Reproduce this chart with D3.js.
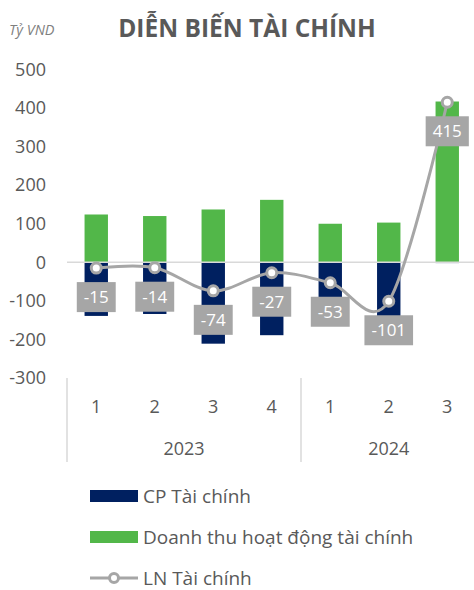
<!DOCTYPE html>
<html>
<head>
<meta charset="utf-8">
<script src="https://cdn.jsdelivr.net/npm/d3@7"></script>
<style>
    body { margin: 0; background: #fff; }
    svg { font-family: "Open Sans", "Noto Sans", sans-serif; }
</style>
</head>
<body>
<script>
// data
let quarters = ["1", "2", "3", "4", "1", "2", "3"];
let years = ["2023", "2024"];
let yearSpans = [4, 3];
let revenue = [124, 120, 137, 162, 100, 103, 417];
let cost = [-139, -134, -211, -189, -153, -204, -2];
let profit = [-15, -14, -74, -27, -53, -101, 415];
let yTicks = [500, 400, 300, 200, 100, 0, -100, -200, -300];
let seriesNames = ["CP Tài chính", "Doanh thu hoạt động tài chính", "LN Tài chính"];

let width = 474, height = 590;
let navy = "#002060", green = "#52b749", gray = "#a6a6a6", textCol = "#595959";

let svg = d3.select("body").append("svg")
    .attr("width", width)
    .attr("height", height);

// title
svg.append("text")
    .attr("x", 247).attr("y", 37)
    .attr("text-anchor", "middle")
    .attr("font-size", 24.5).attr("font-weight", "bold")
    .attr("fill", textCol)
    .text("DIỄN BIẾN TÀI CHÍNH");

svg.append("text")
    .attr("x", 9).attr("y", 35)
    .attr("font-size", 14.5).attr("font-style", "italic")
    .attr("fill", "#7f7f7f")
    .text("Tỷ VND");

let idx = d3.range(quarters.length);
let x = d3.scaleBand()
    .domain(idx)
    .range([67, 476.5])
    .paddingInner(0.6)
    .paddingOuter(0.3);

let y = d3.scaleLinear()
    .domain([-300, 500])
    .range([378, 69.5]);

// y tick labels
svg.append("g").selectAll("text")
    .data(yTicks)
    .enter().append("text")
    .attr("x", 46)
    .attr("y", d => y(d))
    .attr("dy", "0.35em")
    .attr("text-anchor", "end")
    .attr("font-size", 18)
    .attr("fill", textCol)
    .text(d => d);

// bars
let cx = i => x(i) + x.bandwidth() / 2;

svg.append("g").selectAll("rect")
    .data(revenue)
    .enter().append("rect")
    .attr("x", (d, i) => x(i))
    .attr("width", x.bandwidth())
    .attr("y", d => y(d))
    .attr("height", d => y(0) - y(d))
    .attr("fill", green);

svg.append("g").selectAll("rect")
    .data(cost)
    .enter().append("rect")
    .attr("x", (d, i) => x(i))
    .attr("width", x.bandwidth())
    .attr("y", y(0))
    .attr("height", d => y(d) - y(0))
    .attr("fill", navy);

// zero line
svg.append("line")
    .attr("x1", 67).attr("x2", width)
    .attr("y1", y(0)).attr("y2", y(0))
    .attr("stroke", "#d9d9d9").attr("stroke-width", 1.5);

// x axis: quarters and years
svg.append("g").selectAll("text")
    .data(quarters)
    .enter().append("text")
    .attr("x", (d, i) => cx(i))
    .attr("y", 407)
    .attr("dy", "0.35em")
    .attr("text-anchor", "middle")
    .attr("font-size", 18)
    .attr("fill", textCol)
    .text(d => d);

let seps = [x(0) - x.step() * x.paddingOuter()];
years.forEach(function (yr, k) {
    let x0 = seps[seps.length - 1];
    let x1 = x0 + yearSpans[k] * x.step();
    seps.push(x1);
    svg.append("text")
        .attr("x", (x0 + x1) / 2)
        .attr("y", 449)
        .attr("dy", "0.35em")
        .attr("text-anchor", "middle")
        .attr("font-size", 18)
        .attr("fill", textCol)
        .text(yr);
});
svg.append("g").selectAll("line")
    .data(seps.slice(0, seps.length - 1))
    .enter().append("line")
    .attr("x1", d => d).attr("x2", d => d)
    .attr("y1", 378).attr("y2", 462)
    .attr("stroke", "#d9d9d9").attr("stroke-width", 1.5);

// profit line
let line = d3.line()
    .x((d, i) => cx(i))
    .y(d => y(d))
    .curve(d3.curveCatmullRom.alpha(0));

svg.append("path")
    .datum(profit)
    .attr("d", line)
    .attr("fill", "none")
    .attr("stroke", gray)
    .attr("stroke-width", 3);

svg.append("g").selectAll("circle")
    .data(profit)
    .enter().append("circle")
    .attr("cx", (d, i) => cx(i))
    .attr("cy", d => y(d))
    .attr("r", 5)
    .attr("fill", "#fff")
    .attr("stroke", gray)
    .attr("stroke-width", 3);

// data labels
let lab = svg.append("g").selectAll("g")
    .data(profit)
    .enter().append("g")
    .attr("transform", (d, i) => "translate(" + cx(i) + "," + (y(d) + 14) + ")");

lab.append("rect")
    .attr("fill", gray);

lab.append("text")
    .attr("y", 15)
    .attr("dy", "0.35em")
    .attr("text-anchor", "middle")
    .attr("font-size", 17)
    .attr("fill", "#fff")
    .text(d => d);

lab.each(function () {
    let g = d3.select(this);
    let w = g.select("text").node().getComputedTextLength() + 14;
    g.select("rect")
        .attr("x", -w / 2).attr("width", w)
        .attr("y", 0).attr("height", 30);
});

// legend
let legY = [496, 537, 578];
let leg = svg.append("g");
leg.append("rect").attr("x", 90).attr("y", legY[0] - 6).attr("width", 48).attr("height", 12).attr("fill", navy);
leg.append("rect").attr("x", 90).attr("y", legY[1] - 6).attr("width", 48).attr("height", 12).attr("fill", green);
leg.append("line").attr("x1", 90).attr("x2", 138).attr("y1", legY[2]).attr("y2", legY[2])
    .attr("stroke", gray).attr("stroke-width", 3);
leg.append("circle").attr("cx", 114).attr("cy", legY[2]).attr("r", 4.5)
    .attr("fill", "#fff").attr("stroke", gray).attr("stroke-width", 3);
leg.selectAll("text")
    .data(seriesNames)
    .enter().append("text")
    .attr("x", 143)
    .attr("y", (d, i) => legY[i])
    .attr("dy", "0.35em")
    .attr("font-size", 19)
    .attr("fill", textCol)
    .text(d => d);
</script>
</body>
</html>
